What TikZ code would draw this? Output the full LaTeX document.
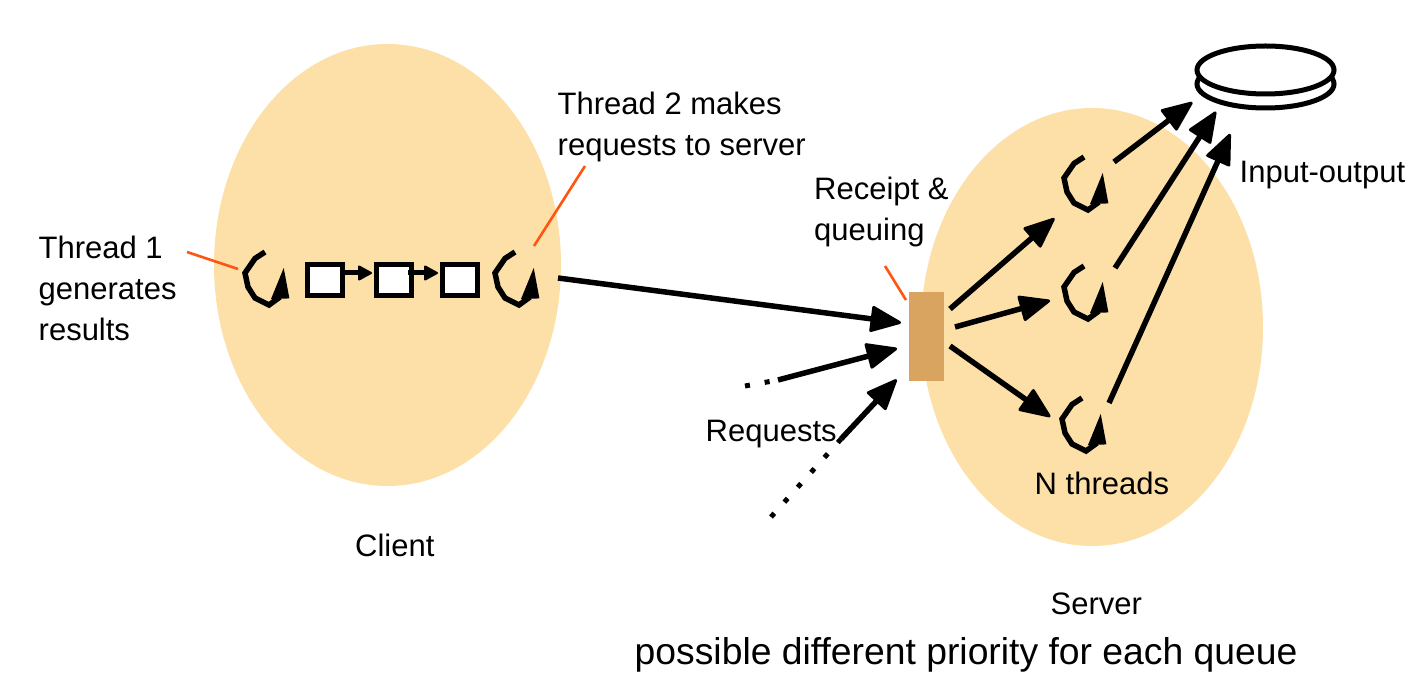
\documentclass[tikz,border=0pt]{standalone}
\usepackage{fontspec}
\setmainfont{Liberation Sans}
\usetikzlibrary{arrows.meta,shapes.geometric}
\definecolor{peach}{HTML}{FDE0A8}
\definecolor{queuebox}{HTML}{D8A45F}
\definecolor{callout}{HTML}{FF5511}
\tikzset{
  x=1pt,y=-1pt,
  line join=round,
  blob/.style={fill=peach,draw=none,ellipse,inner sep=0pt,outer sep=0pt},
  lab/.style={anchor=base west,inner sep=0pt,font=\fontsize{31}{41}\selectfont,align=left},
  big/.style={anchor=base west,inner sep=0pt,font=\fontsize{37.3}{44}\selectfont},
  arr/.style={line width=5.5pt,-{Triangle[length=33pt,width=27pt,round,line width=3pt]},shorten >=2pt},
  smallarr/.style={line width=5pt,-{Triangle[length=15pt,width=16pt,round,line width=2pt]},shorten >=1pt},
  dotline/.style={line width=5pt,dash pattern=on 5pt off 15pt},
  coil/.style={line width=5.5pt},
  callline/.style={line width=2.6pt,draw=callout},
  sq/.style={draw=black,line width=5pt,fill=white,minimum width=35pt,minimum height=31pt,inner sep=0pt,outer sep=0pt},
  disk/.style={draw=black,line width=5pt,fill=white,ellipse,minimum width=137pt,minimum height=48pt,inner sep=0pt,outer sep=0pt},
  pics/threadmark/.style={code={
    \draw[coil] (0,0) -- (-10,6.5) -- (-20,21) -- (-17,35) -- (-10,46) -- (4,53) -- (15,45);
    \fill[draw=black,line width=4pt] (18,23) -- (9,45) -- (22,44.5) -- cycle;
  }}
}
\begin{document}
\begin{tikzpicture}
\useasboundingbox (0,0) rectangle (1411,684);
\fill[white] (0,0) rectangle (1411,684);
% regions
\node[blob,minimum width=347pt,minimum height=442pt] (client) at (387.5,265) {};
\node[blob,minimum width=342pt,minimum height=438pt] (server) at (1092,327) {};
% disk
\node[disk] (disklow) at (1265.5,84) {};
\node[disk] (disk) at (1265.5,70) {};
% queue
\node[fill=queuebox,minimum width=35pt,minimum height=89pt,inner sep=0pt,outer sep=0pt] (queue) at (926.5,336.5) {};
% threads
\path (265,252) pic {threadmark};
\path (515,252) pic {threadmark};
\path (1084,157) pic {threadmark};
\path (1084,266) pic {threadmark};
\path (1082,398) pic {threadmark};
% buffers
\node[sq] (b1) at (325,280) {};
\node[sq] (b2) at (394,280) {};
\node[sq] (b3) at (460,280) {};
\coordinate (a1s) at (345,273);
\coordinate (a1e) at (373,273);
\coordinate (a2s) at (408,273);
\coordinate (a2e) at (439,273);
\draw[smallarr] (a1s) -- (a1e);
\draw[smallarr] (a2s) -- (a2e);
% coordinates
\coordinate (cout) at (558,278);
\coordinate (qin1) at (903,323);
\coordinate (r2s) at (778,380);
\coordinate (qin2) at (899,348);
\coordinate (r2d) at (745,386);
\coordinate (r3s) at (841,439);
\coordinate (qin3) at (898,378);
\coordinate (r3d) at (771,517);
\coordinate (qo1) at (950,309);
\coordinate (to1) at (1056,217);
\coordinate (qo2) at (955,327);
\coordinate (to2) at (1052,300);
\coordinate (qo3) at (950,346);
\coordinate (to3) at (1052,418);
\coordinate (so1) at (1114,162);
\coordinate (dk1) at (1194,101);
\coordinate (so2) at (1115,268);
\coordinate (dk2) at (1217,110);
\coordinate (so3) at (1109,403);
\coordinate (dk3) at (1231,132);
% connectors
\draw[arr] (cout) -- (qin1);
\draw[arr] (r2s) -- (qin2);
\draw[arr] (r3s) -- (qin3);
\draw[dotline] (r2d) -- (r2s);
\draw[dotline] (r3d) -- (r3s);
\draw[arr] (qo1) -- (to1);
\draw[arr] (qo2) -- (to2);
\draw[arr] (qo3) -- (to3);
\draw[arr] (so1) -- (dk1);
\draw[arr] (so2) -- (dk2);
\draw[arr] (so3) -- (dk3);
% callouts
\coordinate (c1a) at (187,252); \coordinate (c1b) at (238,269);
\coordinate (c2a) at (534,246); \coordinate (c2b) at (585,166);
\coordinate (c3a) at (885,266); \coordinate (c3b) at (906,300);
\draw[callline] (c1a) -- (c1b);
\draw[callline] (c2a) -- (c2b);
\draw[callline] (c3a) -- (c3b);
% labels
\node[lab] (l1) at (38.5,341) {Thread 1\\generates\\results};
\node[lab] (l2) at (557.5,156) {Thread 2 makes\\requests to server};
\node[lab] (l3) at (814,241) {Receipt \&\\queuing};
\node[lab] (l4) at (1239.5,183) {Input-output};
\node[lab] (l5) at (705.5,441) {Requests};
\node[lab] (l6) at (1034.5,494) {N threads};
\node[lab] (l7) at (355,556) {Client};
\node[lab] (l8) at (1050.5,614) {Server};
\node[big] (l9) at (634.5,664) {possible different priority for each queue};
\end{tikzpicture}
\end{document}
